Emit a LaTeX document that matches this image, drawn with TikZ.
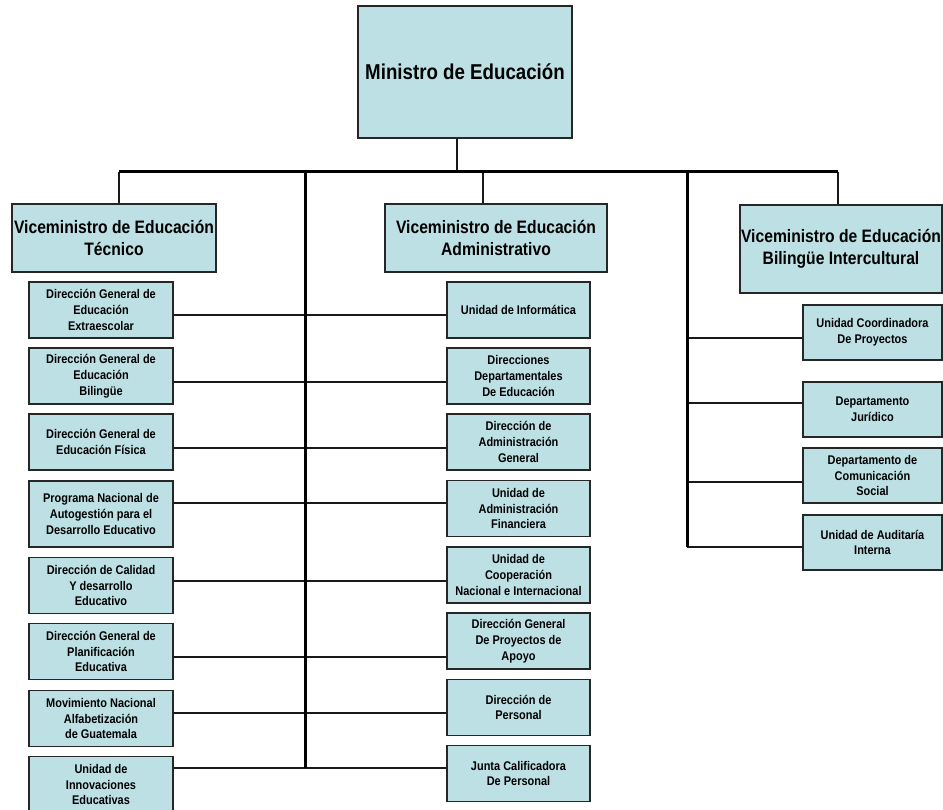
\documentclass[tikz,border=0pt]{standalone}
\usepackage{fontspec}
\setmainfont{Liberation Sans}[FakeStretch=0.87]
\usepackage{tikz}
\usetikzlibrary{calc}
\tikzset{>=latex}
\definecolor{cajafondo}{RGB}{188,224,228}
\tikzset{
  caja/.style={draw=black!85,fill=cajafondo,line width=1.2pt,align=center,inner sep=1pt},
  chica/.style={caja,minimum width=144pt,minimum height=56pt,font=\bfseries\fontsize{12.6}{15.8}\selectfont},
  vice/.style={caja,font=\bfseries\fontsize{18}{22}\selectfont},
  linea/.style={line width=1.2pt,color=black!90},
  tronco/.style={line width=3pt,color=black}
}

\begin{document}
\begin{tikzpicture}[x=1pt,y=-1pt]
    \useasboundingbox (0,0) rectangle (943,810);
    \node[caja,minimum width=214pt,minimum height=132pt,font=\bfseries\fontsize{21.5}{26}\selectfont] (min) at (465,72) {Ministro de Educaci\'on};
    \node[vice,minimum width=204pt,minimum height=68pt] (vtec) at (114,238) {Viceministro de Educaci\'on\\T\'ecnico};
    \node[vice,minimum width=222pt,minimum height=68pt] (vadm) at (496,238) {Viceministro de Educaci\'on\\Administrativo};
    \node[vice,minimum width=202pt,minimum height=88pt] (vbil) at (841,249) {Viceministro de Educaci\'on\\Biling\"ue Intercultural};
    \foreach \i/\y/\h/\txt in {1/310/56/{Direcci\'on General de\\Educaci\'on\\Extraescolar},
                            2/376/56/{Direcci\'on General de\\Educaci\'on\\Biling\"ue},
                            3/442/56/{Direcci\'on General de\\Educaci\'on F\'isica},
                            4/514/66/{Programa Nacional de\\Autogesti\'on para el\\Desarrollo Educativo},
                            5/585.5/56/{Direcci\'on de Calidad\\Y desarrollo\\Educativo},
                            6/651.5/56/{Direcci\'on General de\\Planificaci\'on\\Educativa},
                            7/718.5/56/{Movimiento Nacional\\Alfabetizaci\'on\\de Guatemala},
                            8/784.5/56/{Unidad de\\Innovaciones\\Educativas}} {
      \node[chica,minimum height=\h pt] (l\i) at (101,\y) {\txt};
    }
    \foreach \i/\y/\txt in {1/310/{Unidad de Inform\'atica},
                            2/376/{Direcciones\\Departamentales\\De Educaci\'on},
                            3/442/{Direcci\'on de\\Administraci\'on\\General},
                            4/508.5/{Unidad de\\Administraci\'on\\Financiera},
                            5/575/{Unidad de\\Cooperaci\'on\\Nacional e Internacional},
                            6/641/{Direcci\'on General\\De Proyectos de\\Apoyo},
                            7/707.5/{Direcci\'on de\\Personal},
                            8/773.5/{Junta Calificadora\\De Personal}} {
      \node[chica,minimum width=143pt] (m\i) at (518.5,\y) {\txt};
    }
    \foreach \i/\y/\txt in {1/332.5/{Unidad Coordinadora\\De Proyectos},
                            2/409.5/{Departamento\\Jur\'idico},
                            3/475.5/{Departamento de\\Comunicaci\'on\\Social},
                            4/542.5/{Unidad de Auditar\'ia\\Interna}} {
      \node[chica,minimum width=139pt,minimum height=55pt] (r\i) at (872.5,\y) {\txt};
    }
    \coordinate (barra) at (457,172);
    \coordinate (d1) at (119,172);
    \coordinate (d2) at (483,172);
    \coordinate (d3) at (838,172);
    \coordinate (ta) at (305,172);
    \coordinate (tb) at (687,172);
    \draw[linea] (min.south -| barra) -- (barra);
    \draw[linea] (d1) -- (d1 |- vtec.north);
    \draw[linea] (d2) -- (d2 |- vadm.north);
    \draw[linea] (d3) -- (d3 |- vbil.north);
    \foreach \i/\y in {1/315,2/382,3/448,4/503,5/581,6/657,7/713,8/768} {
      \coordinate (c\i) at (305,\y);
      \draw[linea] (l\i.east |- c\i) -- (m\i.west |- c\i);
    }
    \foreach \i/\y in {1/338,2/403,3/482,4/547} {
      \coordinate (rc\i) at (687,\y);
      \draw[linea] (rc\i) -- (r\i.west |- rc\i);
    }
    \draw[tronco] (d1) -- (d3);
    \draw[tronco] (ta) -- (c8);
    \draw[tronco] (tb) -- (rc4);
\end{tikzpicture}
\end{document}
